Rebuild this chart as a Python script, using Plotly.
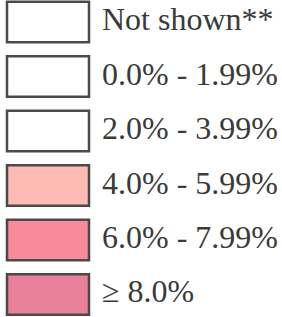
import plotly.graph_objects as go

labels = ["Not shown**", "0.0% - 1.99%", "2.0% - 3.99%", "4.0% - 5.99%", "6.0% - 7.99%", "\u2265 8.0%"]
colors = ["#FFFFFF", "#FFFFFF", "#FFFFFF", "#FDBBB4", "#F98A9B", "#E9819A"]
idx = list(range(len(labels)))

fig = go.Figure()
fig.add_trace(go.Bar(
    y=idx, x=[82] * len(idx), base=[7] * len(idx), orientation="h",
    width=0.74,
    marker=dict(color=colors, line=dict(color="#4a4a4a", width=2.5)),
    hoverinfo="skip",
))
fig.add_trace(go.Scatter(
    y=idx, x=[102] * len(idx), mode="text", text=labels,
    textposition="middle right", cliponaxis=False,
    textfont=dict(family="Liberation Serif", size=32, color="#3a3a3a"),
    hoverinfo="skip",
))
fig.update_layout(
    width=282, height=317, autosize=False,
    margin=dict(l=0, r=0, t=0, b=0),
    paper_bgcolor="white", plot_bgcolor="white",
    showlegend=False,
    xaxis=dict(range=[0, 282], visible=False, fixedrange=True),
    yaxis=dict(range=[5.413, -0.404], visible=False, fixedrange=True),
)
fig.write_html("out.html", config={"displayModeBar": False, "staticPlot": True},
               post_script="document.body.style.margin='0';document.body.style.overflow='hidden';")
